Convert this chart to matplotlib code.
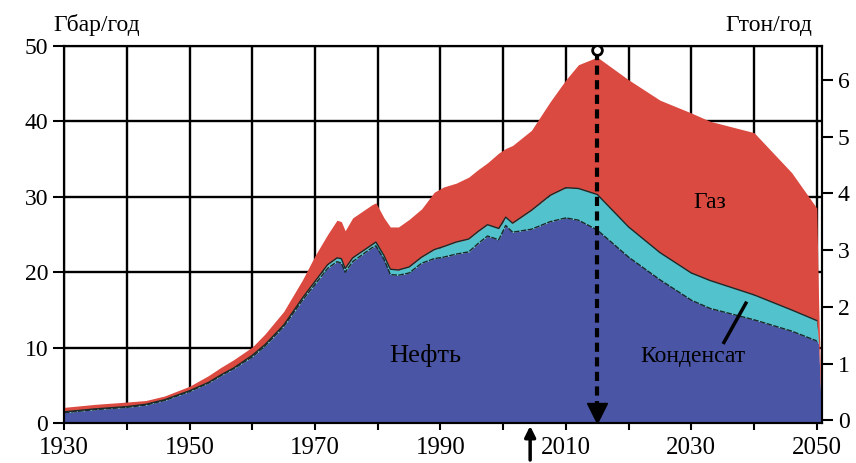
import numpy as np
import matplotlib.pyplot as plt

# Values (Gbar per year, top edge of each layer)
years = [1930, 1935, 1940, 1943, 1946, 1950, 1953, 1955, 1957, 1960, 1962, 1965,
         1968, 1970, 1972, 1973.5, 1974.2, 1974.8, 1976, 1979, 1979.7, 1981, 1982,
         1983.3, 1985, 1987, 1989, 1990.5, 1992.5, 1994.5, 1996, 1997.5, 1999.3,
         2000.4, 2001.5, 2004.5, 2007.5, 2010, 2012, 2015, 2020, 2025, 2030, 2033,
         2040, 2046, 2050, 2050.3, 2050.8]
oil_top = [1.4, 1.8, 2.1, 2.4, 3.0, 4.2, 5.3, 6.3, 7.2, 8.8, 10.2, 12.8,
           16.3, 18.4, 20.5, 21.4, 21.2, 20.0, 21.4, 23.2, 23.5, 21.7, 19.7,
           19.6, 19.9, 21.2, 21.8, 22.0, 22.4, 22.7, 23.8, 24.8, 24.3,
           26.2, 25.3, 25.7, 26.7, 27.2, 26.9, 25.6, 22.0, 19.0, 16.3, 15.2,
           13.7, 12.2, 10.9, 10.5, 0]
cond_top = [1.5, 1.9, 2.2, 2.5, 3.1, 4.3, 5.4, 6.4, 7.3, 9.0, 10.4, 13.0,
            16.6, 18.8, 21.0, 21.9, 21.8, 20.5, 21.9, 23.6, 24.0, 22.2, 20.4,
            20.3, 20.7, 22.0, 23.0, 23.4, 24.0, 24.4, 25.4, 26.3, 25.8,
            27.3, 26.5, 28.2, 30.2, 31.2, 31.1, 30.3, 26.0, 22.6, 19.9, 18.9,
            17.0, 15.0, 13.6, 10.6, 0]
gas_top = [2.1, 2.5, 2.8, 3.0, 3.6, 4.9, 6.3, 7.4, 8.4, 10.1, 11.8, 14.8,
           19.0, 22.2, 25.0, 26.9, 26.7, 25.5, 27.2, 28.9, 29.2, 27.2, 26.0,
           26.0, 27.0, 28.4, 30.6, 31.3, 31.8, 32.6, 33.6, 34.5, 35.8,
           36.4, 36.8, 38.8, 42.6, 45.5, 47.5, 48.5, 45.5, 42.8, 41.1, 40.0,
           38.5, 33.2, 28.5, 16.0, 0]

peak_year = 2015
mark_year = 2004.3
x_ticks = [1930, 1950, 1970, 1990, 2010, 2030, 2050]
y_ticks = [0, 10, 20, 30, 40, 50]
y2_ticks = [0, 1, 2, 3, 4, 5, 6]

c_oil = '#4a55a6'
c_cond = '#52c2cc'
c_gas = '#db4a40'

plt.rcParams['font.family'] = ['Liberation Serif', 'DejaVu Serif']

fig = plt.figure(figsize=(8.56, 4.63), dpi=100)
ax = fig.add_axes([0.075, 0.086, 0.885, 0.815])

x = np.array(years)
ax.fill_between(x, 0, oil_top, color=c_oil, lw=0, zorder=2)
ax.fill_between(x, oil_top, cond_top, color=c_cond, lw=0, zorder=2)
ax.fill_between(x, cond_top, gas_top, color=c_gas, lw=0, zorder=2)
ax.plot(x[:-2], oil_top[:-2], color='#1a2a2a', lw=1.0, ls=(0, (4, 1)), zorder=3)
ax.plot(x[:-2], cond_top[:-2], color='#1a2a2a', lw=1.0, zorder=3)

ax.set_xlim(1930, 2050.8)
ax.set_ylim(0, 50)
ax.set_xticks(np.arange(1930, 2051, 10), minor=True)
ax.set_xticks(x_ticks)
ax.set_yticks(y_ticks)
ax.tick_params(axis='x', which='both', direction='out', length=5, width=1.5,
               labelsize=18, pad=5)
ax.tick_params(axis='y', direction='out', length=8, width=1.5, labelsize=17)
for v in np.arange(1930, 2051, 10):
    ax.axvline(v, color='black', lw=1.7, zorder=1)
for v in y_ticks:
    ax.axhline(v, color='black', lw=1.7, zorder=1)
for s in ax.spines.values():
    s.set_linewidth(1.5)

# peak marker
ax.plot([peak_year, peak_year], [49.3, 2.5], color='black', lw=3,
        ls=(0, (2.2, 1.3)), zorder=4)
ax.plot(peak_year, 49.4, 'o', ms=7, mfc='white', mec='black', mew=2, zorder=5)
ax.plot(peak_year, 1.4, 'v', ms=14, color='black', zorder=5, clip_on=False)

ax.annotate('', xy=(mark_year, 0), xycoords=('data', 'axes fraction'),
            xytext=(mark_year, -0.105), textcoords=('data', 'axes fraction'),
            arrowprops=dict(arrowstyle='-|>', color='black', lw=2.5,
                            mutation_scale=16), annotation_clip=False)

ax.plot([2035.2, 2038.7], [10.7, 15.9], color='black', lw=2.5, zorder=5)

ax.text(1987.5, 9.0, 'Нефть', fontsize=19, ha='center', va='center', zorder=6)
ax.text(2030.3, 8.8, 'Конденсат', fontsize=17, ha='center', va='center', zorder=6)
ax.text(2033.0, 29.3, 'Газ', fontsize=17, ha='center', va='center', zorder=6)

ax2 = ax.twinx()
ax2.set_ylim(-0.05, 6.6)
ax2.set_yticks(y2_ticks)
ax2.tick_params(axis='y', direction='out', length=8, width=1.5, labelsize=17)
for s in ax2.spines.values():
    s.set_linewidth(1.5)

fig.text(0.062, 0.945, 'Гбар/год', fontsize=17, ha='left', va='center')
fig.text(0.949, 0.945, 'Гтон/год', fontsize=17, ha='right', va='center')

fig.savefig('out.png', dpi=100)
